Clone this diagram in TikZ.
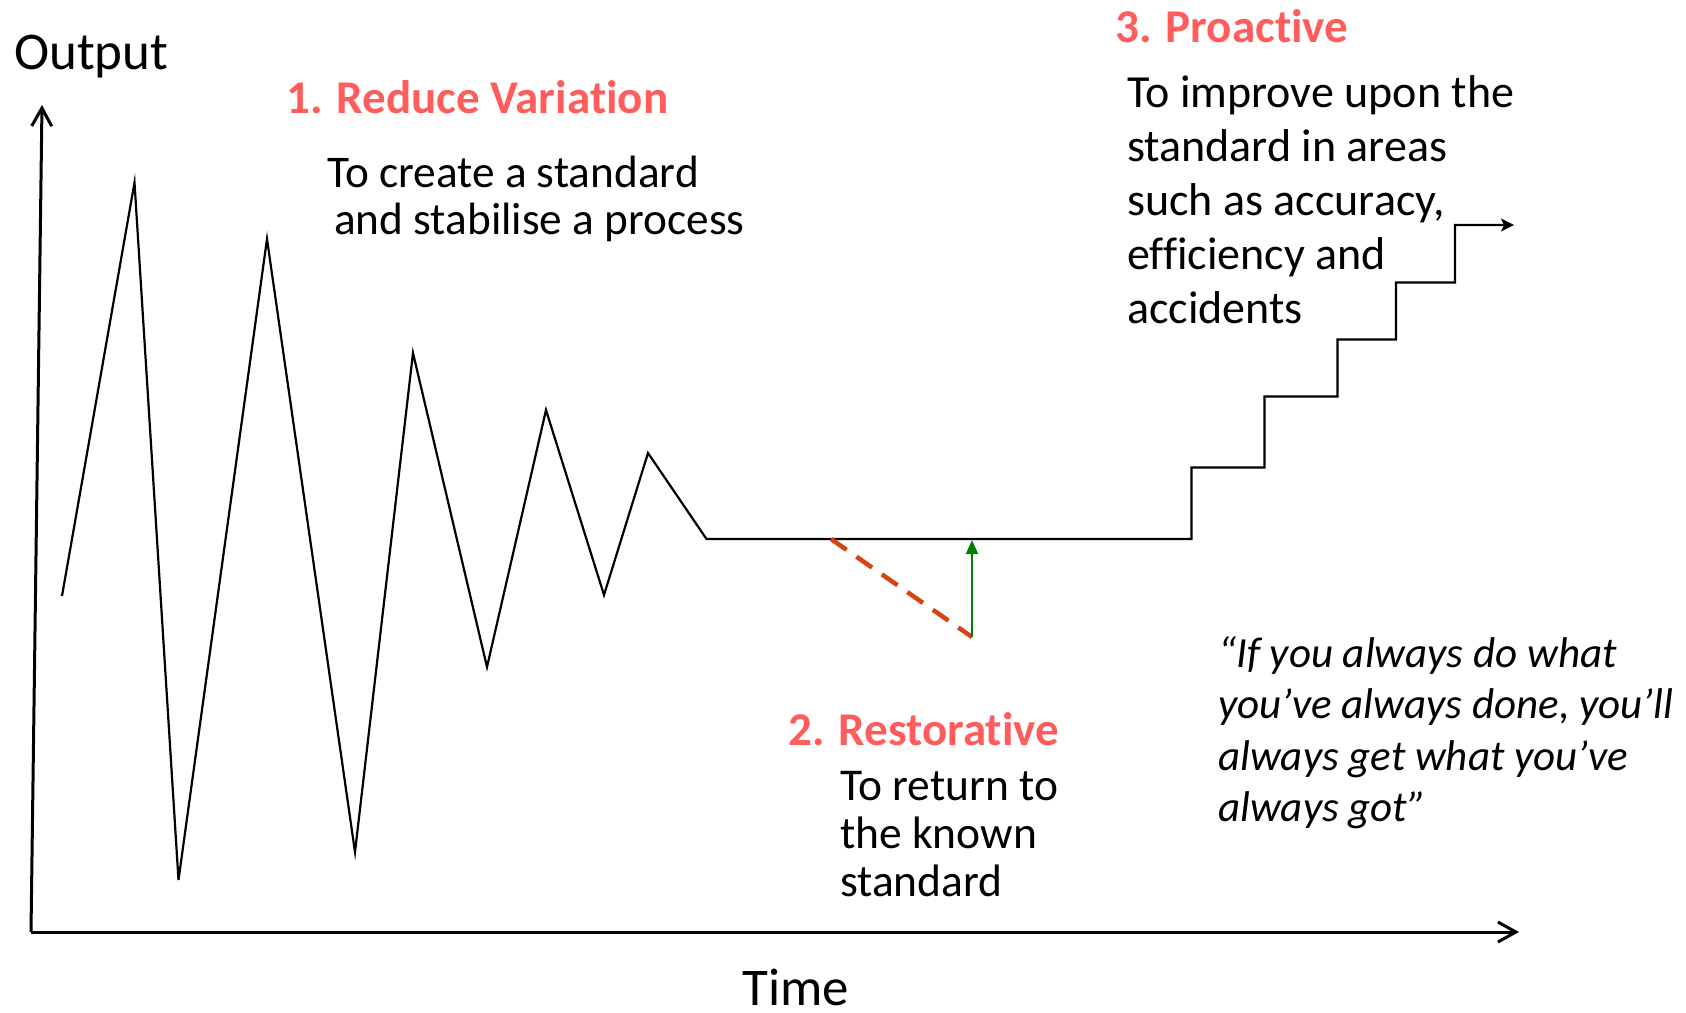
\documentclass[tikz,border=0pt]{standalone}
\usepackage{fontspec}
\setmainfont{Carlito}[Ligatures=NoCommon]
\usetikzlibrary{arrows.meta}

\definecolor{titlered}{RGB}{255,92,92}
\definecolor{droporange}{RGB}{216,67,21}
\definecolor{restoregreen}{RGB}{0,128,0}

\tikzset{
  axis/.style={line width=3pt, -{Straight Barb[length=18pt,width=20pt,line width=3pt]}},
  trace/.style={line width=2.2pt, line join=miter},
  steptip/.style={-{Stealth[length=13pt,width=13pt,inset=3pt]}},
  drop/.style={line width=4.5pt, droporange, dash pattern=on 19pt off 12pt},
  restore/.style={line width=2pt, restoregreen, -{Triangle[length=14pt,width=12pt]}},
  % multi-line labels are placed by the baseline of their last line
  label/.style={inner sep=0pt, anchor=base west, align=left},
  heading/.style={label, font=\fontsize{47}{56}\selectfont\bfseries, text=titlered},
  axislabel/.style={label, font=\fontsize{53}{60}\selectfont},
}

\begin{document}
\begin{tikzpicture}[x=1pt, y=-1pt]
\useasboundingbox (0,0) rectangle (1686,1012);

% axes
\coordinate (origin) at (31,932);
\coordinate (ytop) at (42,105);
\coordinate (xend) at (1519,932);
\draw[axis] (origin) -- (ytop);
\draw[axis] (origin) -- (xend);
\node[axislabel] (outputlbl) at (14,69) {Output};
\node[axislabel, text depth=0pt] (timelbl) at (742,1005) {Time};

% output trace: damped swings, steady standard, then stepwise improvement
\coordinate (p0) at (62,596);
\coordinate (p1) at (134.5,182.5);
\coordinate (p2) at (178.5,880);
\coordinate (p3) at (267,239);
\coordinate (p4) at (355,852);
\coordinate (p5) at (413,353);
\coordinate (p6) at (487,667);
\coordinate (p7) at (546,410);
\coordinate (p8) at (604,595);
\coordinate (p9) at (648,453);
\coordinate (p10) at (706.5,539);
\coordinate (s0) at (1191.5,539);
\coordinate (s1) at (1191.5,467.5);
\coordinate (s2) at (1264.5,467.5);
\coordinate (s3) at (1264.5,396.5);
\coordinate (s4) at (1337.5,396.5);
\coordinate (s5) at (1337.5,339.5);
\coordinate (s6) at (1396,339.5);
\coordinate (s7) at (1396,282.5);
\coordinate (s8) at (1455,282.5);
\coordinate (s9) at (1455,225);
\coordinate (s10) at (1514,225);
\draw[trace, steptip] (p0) -- (p1) -- (p2) -- (p3) -- (p4) -- (p5) -- (p6) -- (p7)
  -- (p8) -- (p9) -- (p10) -- (s0) -- (s1) -- (s2) -- (s3) -- (s4) -- (s5)
  -- (s6) -- (s7) -- (s8) -- (s9) -- (s10);

% drift below the standard and its correction
\coordinate (driftstart) at (831,539);
\coordinate (driftlow) at (972,637);
\coordinate (backup) at (972,540);
\draw[drop] (driftstart) -- (driftlow);
\draw[restore] (driftlow) -- (backup);

% stage 1
\node[heading] (reduce) at (286,113) {1. Reduce Variation};
\node[label, font=\fontsize{45.3}{47}\selectfont] (reducetxt) at (327,234)
  {To create a standard\\\hspace*{7pt}and stabilise a process};

% stage 2
\node[heading] (restorative) at (788,745) {2. Restorative};
\node[label, font=\fontsize{45.5}{48}\selectfont] (restoretxt) at (840,896)
  {To return to\\the known\\standard};

% stage 3
\node[heading] (proactive) at (1115,42) {3. Proactive};
\node[label, font=\fontsize{46}{54}\selectfont] (proactivetxt) at (1127,323)
  {To improve upon the\\standard in areas\\such as accuracy,\\efficiency and\\accidents};

% quotation
\node[label, font=\fontsize{43}{51.5}\selectfont\itshape] (quote) at (1218,821.5)
  {“If you always do what\\you’ve always done, you’ll\\always get what you’ve\\always got”};

\end{tikzpicture}
\end{document}
